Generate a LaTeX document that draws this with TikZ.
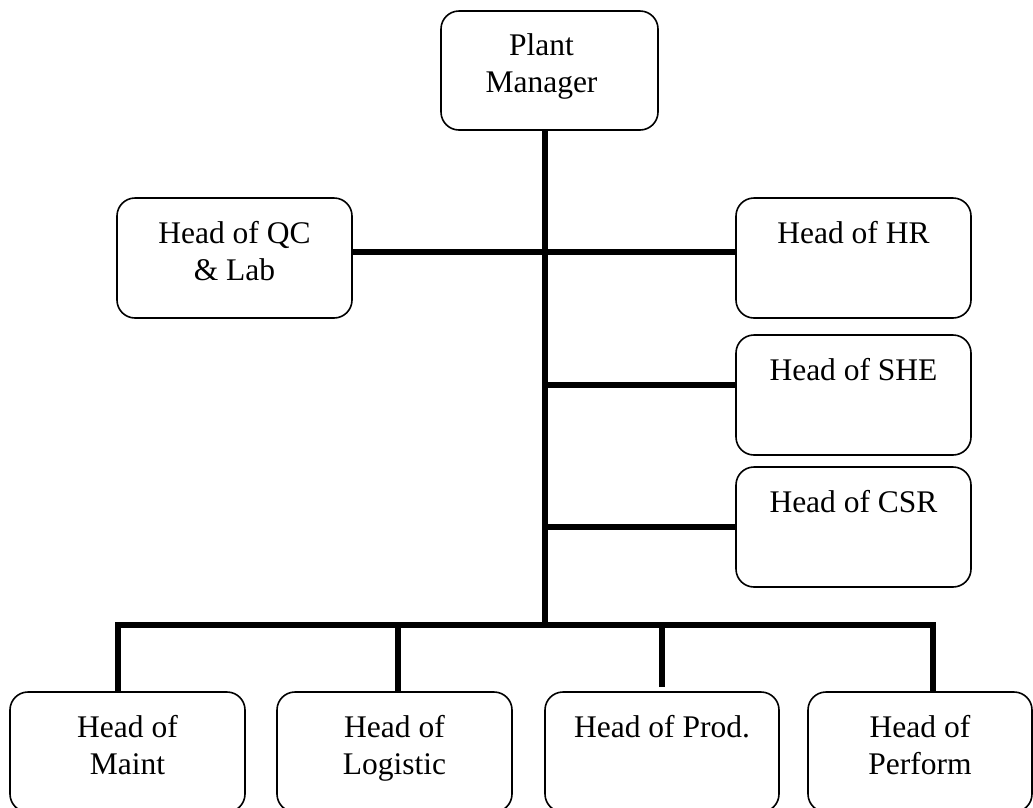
\documentclass[tikz,border=0pt]{standalone}
\usepackage{fontspec}
\setmainfont{Liberation Serif}
\usepackage{tikz}

\begin{document}
\begin{tikzpicture}[
		x=1pt, y=-1pt,
		every node/.style={font=\fontsize{31.5}{37}\selectfont},
		box/.style={draw=black, line width=1.6pt, rounded corners=18pt, minimum width=235pt, minimum height=120pt, inner sep=0pt},
		txt/.style={anchor=north, yshift=-23.5pt, inner sep=0pt, align=center},
		link/.style={line width=5.5pt, line join=miter}
	]
	\useasboundingbox (0,0) rectangle (1033,807);
	% top
	\node[box, minimum width=217pt, minimum height=119pt, label={[txt, xshift=-8pt]north:Plant\\Manager}] (pm) at (549.5,70.5) {};
	% staff
	\node[box, label={[txt]north:Head of QC\\\& Lab}] (qc) at (234.5,258) {};
	\node[box, label={[txt]north:Head of HR}] (hr) at (853.5,258) {};
	\node[box, label={[txt]north:Head of SHE}] (she) at (853.5,395) {};
	\node[box, label={[txt]north:Head of CSR}] (csr) at (853.5,527) {};
	% line heads
	\node[box, label={[txt]north:Head of\\Maint}] (maint) at (127.5,752) {};
	\node[box, label={[txt]north:Head of\\Logistic}] (logi) at (394.5,752) {};
	\node[box, minimum width=234pt, label={[txt]north:Head of Prod.}] (prod) at (662,752) {};
	\node[box, minimum width=224pt, label={[txt]north:Head of\\Perform}] (perf) at (920,752) {};
	\coordinate (bar) at (545,625);
	\draw[link] ([xshift=-4.5pt]pm.south) -- (bar);
	\draw[link] ([yshift=6pt]qc.east) -- ([yshift=6pt]hr.west);
	\draw[link] ([yshift=10pt]she.west) -- ([yshift=10pt]she.west -| bar);
	\draw[link] (csr.west) -- (csr.west -| bar);
	\draw[link] ([xshift=-9.5pt]maint.north) |- (bar) -| ([xshift=13pt]perf.north);
	\draw[link] ([xshift=3.5pt]logi.north) -- ([xshift=3.5pt]logi.north |- bar);
	\draw[link] ([yshift=4pt]prod.north) -- (prod.north |- bar);
\end{tikzpicture}
\end{document}
